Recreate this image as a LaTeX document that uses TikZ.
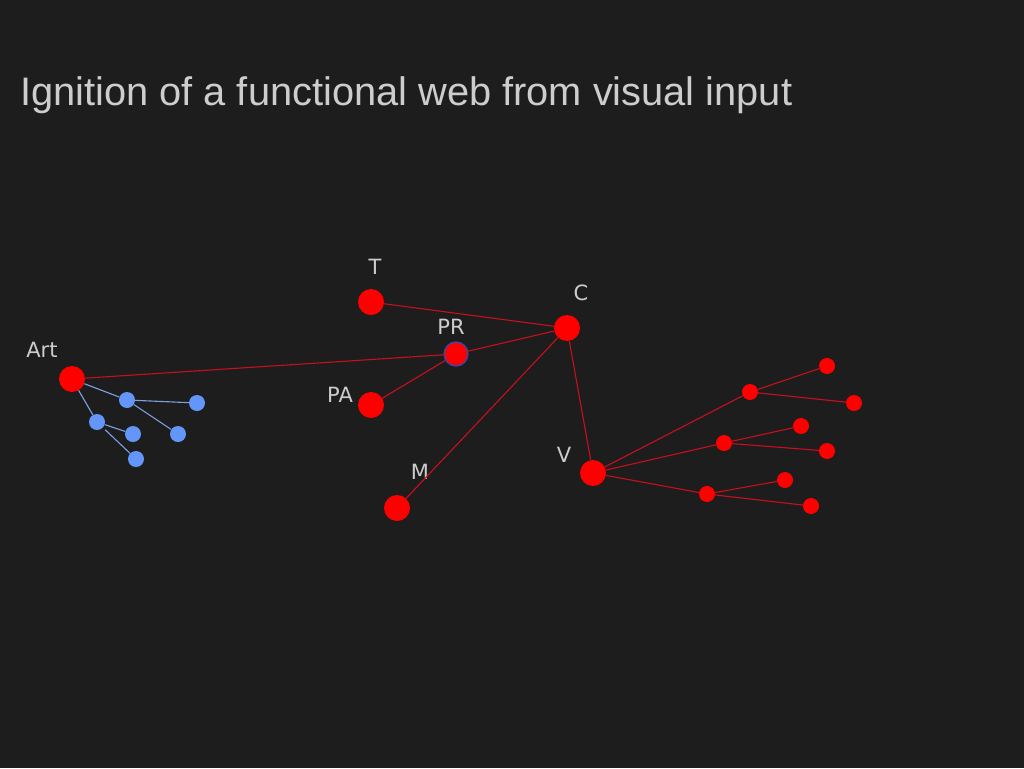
\documentclass[tikz,border=0pt]{standalone}
\usepackage{fontspec}
\setmainfont{Liberation Sans}
\newfontfamily\labelfont{DejaVu Sans}
\usetikzlibrary{positioning}

\definecolor{bgdark}{RGB}{29,29,29}
\definecolor{textgray}{RGB}{205,205,205}
\definecolor{linkred}{RGB}{200,15,30}
\definecolor{nodeblue}{RGB}{100,150,250}
\definecolor{linkblue}{RGB}{125,160,230}
\definecolor{rimblue}{RGB}{40,80,180}

\begin{document}
\begin{tikzpicture}[x=1pt, y=-1pt,
    hub/.style={circle, fill=red, minimum size=26pt, inner sep=0pt},
    leaf/.style={circle, fill=red, minimum size=16pt, inner sep=0pt},
    bleaf/.style={circle, fill=nodeblue, minimum size=16pt, inner sep=0pt},
    tag/.style={text=textgray, font=\labelfont\fontsize{21}{21}\selectfont, inner sep=0pt},
    rlink/.style={draw=linkred, line width=1.1pt},
    blink/.style={draw=linkblue, line width=1.1pt}]
    \fill[bgdark] (0,0) rectangle (1024,768);
    \useasboundingbox (0,0) rectangle (1024,768);

    \node[anchor=base west, text=textgray, inner sep=0pt,
      font=\fontsize{39.8}{40}\selectfont] (title) at (20,105)
      {Ignition of a functional web from visual input};

    % main hubs
    \node[hub] (art) at (72,379) {};
    \node[hub] (t) at (371,302) {};
    \node[hub] (c) at (567,328) {};
    \node[hub, minimum size=24pt, draw=rimblue, line width=1.2pt] (pr) at (456,354) {};
    \node[hub] (pa) at (371,405) {};
    \node[hub] (m) at (397,508) {};
    \node[hub] (v) at (593,473) {};

    \node[tag] (lart) at (42,350) {Art};
    \node[tag] (lt) at (375,267) {T};
    \node[tag] (lc) at (581,293) {C};
    \node[tag] (lpr) at (451,327) {PR};
    \node[tag] (lpa) at (340,395) {PA};
    \node[tag] (lm) at (420,472) {M};
    \node[tag] (lv) at (564,455) {V};

    % blue tree under Art
    \node[bleaf] (b1) at (127,400) {};
    \node[bleaf] (b2) at (97,422) {};
    \node[bleaf] (b11) at (197,403) {};
    \node[bleaf] (b12) at (178,434) {};
    \node[bleaf] (b21) at (133,434) {};
    \node[bleaf] (b22) at (136,459) {};

    % red tree under V
    \node[leaf] (v1) at (750,392) {};
    \node[leaf] (v2) at (724,443) {};
    \node[leaf] (v3) at (707,494) {};
    \node[leaf] (v11) at (827,366) {};
    \node[leaf] (v12) at (854,403) {};
    \node[leaf] (v21) at (801,426) {};
    \node[leaf] (v22) at (827,451) {};
    \node[leaf] (v31) at (785,480) {};
    \node[leaf] (v32) at (811,506) {};

    \draw[rlink] (t) -- (c);
    \draw[rlink] (art) -- (pr) -- (c);
    \draw[rlink] (pa) -- (pr);
    \draw[rlink] (m) -- (c) -- (v);
    \foreach \k in {1,2,3} {
      \draw[rlink] (v) -- (v\k);
      \draw[rlink] (v\k1) -- (v\k) -- (v\k2);
    }
    \draw[blink] (b11) -- (b1) -- (art) -- (b2) -- (b21);
    \draw[blink] (b1) -- (b12);
    \draw[blink, shorten <=3pt] (b2) -- (b22);
\end{tikzpicture}
\end{document}
